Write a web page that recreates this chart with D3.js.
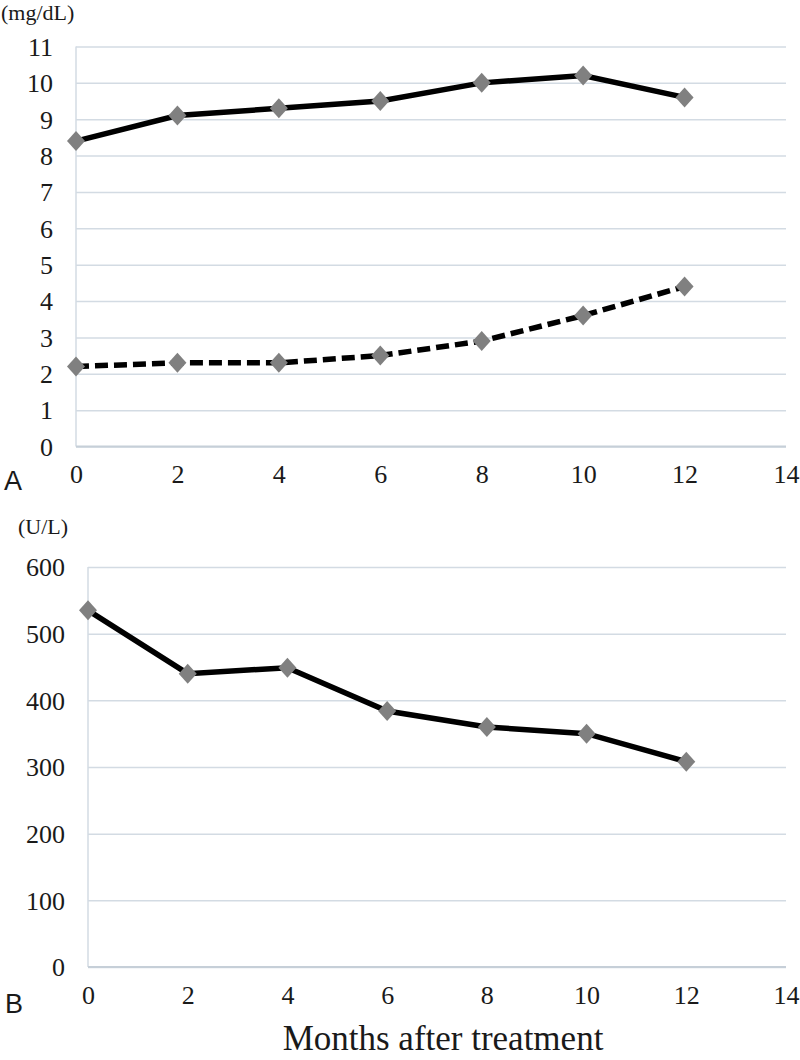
<!DOCTYPE html>
<html>
<head>
<meta charset="utf-8">
<script src="https://cdn.jsdelivr.net/npm/d3@7"></script>
<style>
  body { margin: 0; background: #fff; }
  svg { display: block; }
</style>
</head>
<body>
<svg id="chart" width="800" height="1060"></svg>
<script>

  // values
  var months = [0, 2, 4, 6, 8, 10, 12];
  var upperA = [8.4, 9.1, 9.3, 9.5, 10.0, 10.2, 9.6];   // solid line
  var lowerA = [2.2, 2.3, 2.3, 2.5, 2.9, 3.6, 4.4];     // dashed line
  var valuesB = [535, 440, 449, 384, 360, 350, 308];
  var xTicks = [0, 2, 4, 6, 8, 10, 12, 14];
  var yTicksA = [0, 1, 2, 3, 4, 5, 6, 7, 8, 9, 10, 11];
  var yTicksB = [0, 100, 200, 300, 400, 500, 600];

  var serif = '"Liberation Serif", "Times New Roman", serif';
  var sans = '"Liberation Sans", Arial, sans-serif';
  var gridColor = '#d3dbe3';

  var svg = d3.select('#chart');

  // diamond marker, a bit taller than wide like the Excel one
  function diamond(cx, cy) {
    var w = 9, h = 10;
    return 'M' + cx + ',' + (cy - h) + 'L' + (cx + w) + ',' + cy +
      'L' + cx + ',' + (cy + h) + 'L' + (cx - w) + ',' + cy + 'Z';
  }

  function drawPanel(p) {
    var x = d3.scaleLinear().domain([0, 14]).range([p.left, p.right]);
    var y = d3.scaleLinear().domain([0, p.yMax]).range([p.bottom, p.top]);
    var g = svg.append('g');

    // horizontal gridlines + y labels
    var yAxis = g.append('g')
      .attr('transform', 'translate(' + p.left + ',0)')
      .call(d3.axisLeft(y).tickValues(p.yTicks).tickSize(-(p.right - p.left)).tickPadding(23));
    yAxis.attr('font-family', null).attr('font-size', null);
    yAxis.select('.domain').remove();
    yAxis.selectAll('line').attr('stroke', gridColor).attr('stroke-width', 1.5);
    yAxis.selectAll('text')
      .style('font-family', serif).style('font-size', '26px').attr('fill', '#1a1a1a')
      .attr('dy', '0.34em');

    // x labels
    var xAxis = g.append('g')
      .attr('transform', 'translate(0,' + p.bottom + ')')
      .call(d3.axisBottom(x).tickValues(xTicks).tickSize(0).tickPadding(p.xPad));
    xAxis.attr('font-family', null).attr('font-size', null);
    xAxis.select('.domain').remove();
    xAxis.selectAll('text')
      .style('font-family', serif).style('font-size', '26px').attr('fill', '#1a1a1a');

    // axis lines
    g.append('line')
      .attr('x1', p.left).attr('x2', p.left).attr('y1', p.top).attr('y2', p.bottom)
      .attr('stroke', gridColor).attr('stroke-width', 1.5);
    g.append('line')
      .attr('x1', p.left).attr('x2', p.right).attr('y1', p.bottom).attr('y2', p.bottom)
      .attr('stroke', '#c6cfd8').attr('stroke-width', 2);

    var line = d3.line()
      .x(function (d, i) { return x(months[i]); })
      .y(function (d) { return y(d); });

    p.series.forEach(function (s) {
      g.append('path')
        .datum(s.values)
        .attr('d', line)
        .attr('fill', 'none')
        .attr('stroke', '#000')
        .attr('stroke-width', 5.5)
        .attr('stroke-dasharray', s.dashed ? '13,6' : null);

      g.selectAll(null)
        .data(s.values)
        .enter()
        .append('path')
          .attr('d', function (d, i) { return diamond(x(months[i]), y(d)); })
          .attr('fill', '#808080');
    });

    // unit label and panel letter
    svg.append('text')
      .attr('x', p.unitX).attr('y', p.unitY)
      .style('font-family', serif).style('font-size', '22px').attr('fill', '#1a1a1a')
      .text(p.unit);
    svg.append('text')
      .attr('x', p.letterX).attr('y', p.letterY)
      .style('font-family', sans).style('font-size', '27px').attr('fill', '#1a1a1a')
      .text(p.letter);
  }

  drawPanel({
    left: 76, right: 786, top: 46.5, bottom: 446.5, yMax: 11,
    yTicks: yTicksA, xPad: 18,
    series: [{ values: upperA, dashed: false }, { values: lowerA, dashed: true }],
    unit: '(mg/dL)', unitX: 1, unitY: 20,
    letter: 'A', letterX: 4, letterY: 490
  });

  drawPanel({
    left: 88, right: 786, top: 567, bottom: 967, yMax: 600,
    yTicks: yTicksB, xPad: 19,
    series: [{ values: valuesB, dashed: false }],
    unit: '(U/L)', unitX: 18, unitY: 534,
    letter: 'B', letterX: 5, letterY: 1013
  });

  svg.append('text')
    .attr('x', 443).attr('y', 1050)
    .attr('text-anchor', 'middle')
    .style('font-family', serif).style('font-size', '35px').attr('fill', '#1a1a1a')
    .text('Months after treatment');

</script>
</body>
</html>
